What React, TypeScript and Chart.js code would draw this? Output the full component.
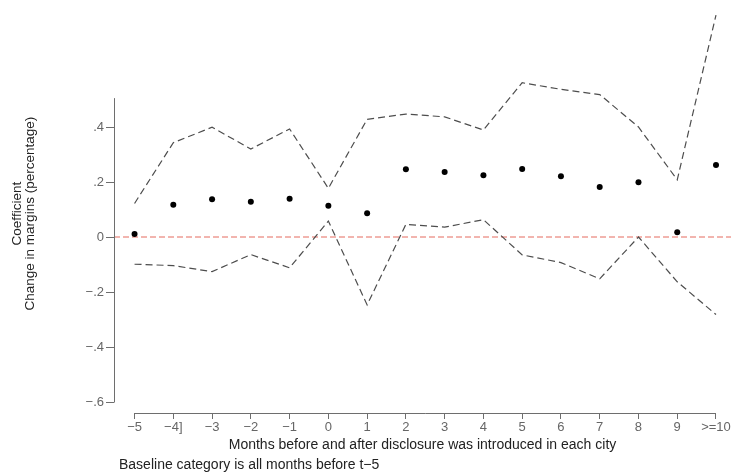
import React, { useEffect, useRef } from "react";
import { Chart, registerables } from "chart.js";

Chart.register(...registerables);

const X_VALUES = [-5, -4, -3, -2, -1, 0, 1, 2, 3, 4, 5, 6, 7, 8, 9, 10];
const X_LABELS = ["\u22125", "\u22124]", "\u22123", "\u22122", "\u22121", "0", "1", "2", "3", "4", "5", "6", "7", "8", "9", ">=10"];
const COEF = [0.011, 0.117, 0.137, 0.128, 0.139, 0.114, 0.086, 0.246, 0.236, 0.225, 0.247, 0.221, 0.182, 0.199, 0.017, 0.262];
const UPPER = [0.122, 0.343, 0.399, 0.32, 0.393, 0.177, 0.428, 0.447, 0.437, 0.389, 0.561, 0.537, 0.518, 0.4, 0.208, 0.807];
const LOWER = [-0.099, -0.104, -0.126, -0.064, -0.112, 0.058, -0.247, 0.046, 0.036, 0.063, -0.065, -0.093, -0.152, 0.0, -0.163, -0.282];
const Y_TICKS = [-0.6, -0.4, -0.2, 0, 0.2, 0.4];
const Y_TITLE = ["Coefficient", "Change in margins (percentage)"];
const X_TITLE = "Months before and after disclosure was introduced in each city";
const NOTE = "Baseline category is all months before t\u22125";

const FONT = "'Liberation Sans', Arial, Helvetica, sans-serif";
const X_MIN = -5.53;
const X_MAX = 10.387;
const Y_MIN = -0.64;
const Y_MAX = 0.81;
const Y_AXIS_TOP = 0.505;

function fmtY(v: number): string {
  if (Math.abs(v) < 1e-9) return "0";
  const s = Math.abs(v).toFixed(1).replace(/^0/, "");
  return (v < 0 ? "\u2212" : "") + s;
}

const axisPlugin = {
  id: "stataAxes",
  afterDraw(chart: any) {
    const { ctx, chartArea, scales } = chart;
    const x = scales.x;
    const y = scales.y;
    ctx.save();
    ctx.strokeStyle = "#6e6e6e";
    ctx.lineWidth = 1;
    ctx.beginPath();
    const lx = Math.round(chartArea.left) + 0.5;
    ctx.moveTo(lx, y.getPixelForValue(Y_AXIS_TOP));
    ctx.lineTo(lx, y.getPixelForValue(-0.6) + 0.5);
    const by = Math.round(chartArea.bottom) + 0.5;
    ctx.moveTo(x.getPixelForValue(X_VALUES[0]), by);
    ctx.lineTo(x.getPixelForValue(X_VALUES[X_VALUES.length - 1]), by);
    ctx.stroke();
    ctx.fillStyle = "#222";
    ctx.font = `14px ${FONT}`;
    ctx.textBaseline = "middle";
    ctx.textAlign = "left";
    ctx.fillText(NOTE, 119, 465);
    ctx.restore();
  },
};

export default function App() {
  const ref = useRef<HTMLCanvasElement | null>(null);

  useEffect(() => {
    if (!ref.current) return;
    const pts = (arr: number[]) => X_VALUES.map((xv, i) => ({ x: xv, y: arr[i] }));
    const chart = new Chart(ref.current, {
      type: "line",
      data: {
        datasets: [
          {
            label: "zero",
            data: [{ x: X_MIN, y: 0 }, { x: X_MAX, y: 0 }],
            borderColor: "#e56b5f",
            borderWidth: 1,
            borderDash: [6, 3],
            pointRadius: 0,
            order: 3,
          },
          {
            label: "upper",
            data: pts(UPPER),
            borderColor: "#4d4d4d",
            borderWidth: 1.2,
            borderDash: [7, 4],
            pointRadius: 0,
            tension: 0,
            clip: false as any,
            order: 2,
          },
          {
            label: "lower",
            data: pts(LOWER),
            borderColor: "#4d4d4d",
            borderWidth: 1.2,
            borderDash: [7, 4],
            pointRadius: 0,
            tension: 0,
            clip: false as any,
            order: 2,
          },
          {
            label: "coef",
            data: pts(COEF),
            showLine: false,
            pointRadius: 3,
            pointBackgroundColor: "#000",
            pointBorderColor: "#000",
            pointBorderWidth: 0,
            order: 1,
          },
        ],
      },
      options: {
        animation: false,
        responsive: false,
        maintainAspectRatio: false,
        layout: { autoPadding: false, padding: { left: 0, right: 1, top: 14.25, bottom: 21 } },
        plugins: { legend: { display: false }, tooltip: { enabled: false } },
        scales: {
          x: {
            type: "linear",
            min: X_MIN,
            max: X_MAX,
            afterBuildTicks: (s: any) => {
              s.ticks = X_VALUES.map((v) => ({ value: v }));
            },
            afterFit: (s: any) => {
              s.height = 40;
            },
            border: { display: false },
            grid: { drawOnChartArea: false, drawTicks: true, tickLength: 6, color: "#6e6e6e", tickColor: "#6e6e6e" },
            ticks: {
              autoSkip: false,
              maxRotation: 0,
              padding: 1,
              color: "#666",
              font: { family: FONT, size: 13 },
              callback: (v: any) => {
                const i = X_VALUES.indexOf(Number(v));
                return i >= 0 ? X_LABELS[i] : "";
              },
            },
            title: {
              display: true,
              text: X_TITLE,
              color: "#222",
              font: { family: FONT, size: 14, lineHeight: 1.0 },
              padding: { top: 0, bottom: 1 },
            },
          },
          y: {
            type: "linear",
            min: Y_MIN,
            max: Y_MAX,
            afterBuildTicks: (s: any) => {
              s.ticks = Y_TICKS.map((v) => ({ value: v }));
            },
            afterFit: (s: any) => {
              s.width = 114;
            },
            border: { display: false },
            grid: { drawOnChartArea: false, drawTicks: true, tickLength: 8, color: "#6e6e6e", tickColor: "#6e6e6e" },
            ticks: {
              padding: 2,
              color: "#666",
              font: { family: FONT, size: 13 },
              callback: (v: any) => fmtY(Number(v)),
            },
            title: {
              display: true,
              text: Y_TITLE,
              color: "#222",
              font: { family: FONT, size: 13.5, lineHeight: 0.95 },
              padding: { top: 11, bottom: 0 },
            },
          },
        },
      },
      plugins: [axisPlugin],
    });
    return () => chart.destroy();
  }, []);

  return (
    <div style={{ position: "absolute", left: 0, top: 0, width: 732, height: 474, background: "#fff" }}>
      <canvas ref={ref} width={732} height={474} style={{ width: 732, height: 474, display: "block" }} />
    </div>
  );
}
